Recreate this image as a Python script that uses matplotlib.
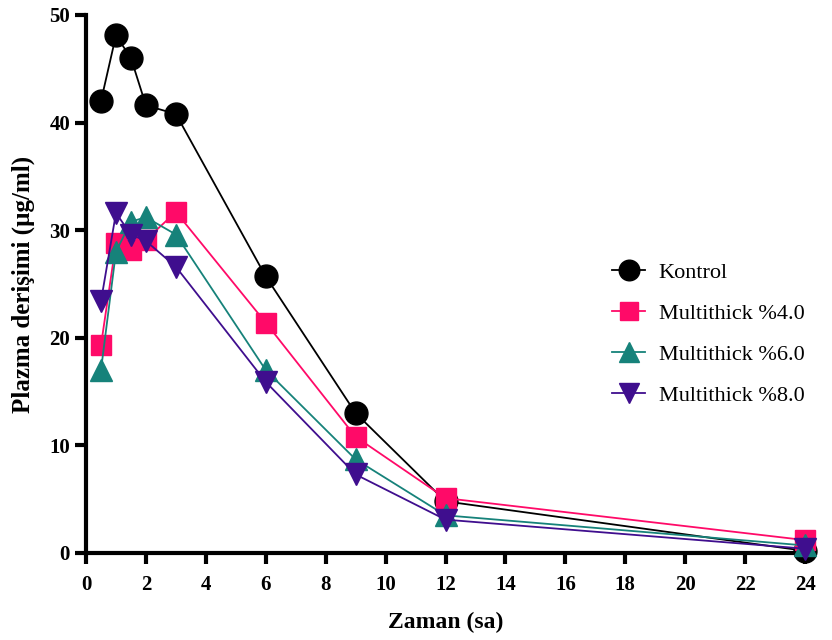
import matplotlib
matplotlib.use("Agg")
import matplotlib.pyplot as plt

time_h = [0.5, 1, 1.5, 2, 3, 6, 9, 12, 24]
kontrol = [42.0, 48.1, 46.0, 41.6, 40.8, 25.7, 13.0, 4.8, 0.2]
mt4 = [19.3, 28.8, 28.2, 29.1, 31.7, 21.4, 10.8, 5.1, 1.2]
mt6 = [17.0, 28.0, 30.8, 31.2, 29.6, 17.0, 8.7, 3.5, 0.7]
mt8 = [23.4, 31.6, 29.6, 29.0, 26.6, 15.9, 7.3, 3.1, 0.4]

series_labels = ["Kontrol", "Multithick %4.0", "Multithick %6.0", "Multithick %8.0"]
xticks = list(range(0, 25, 2))
yticks = [0, 10, 20, 30, 40, 50]

plt.rcParams['font.family'] = ['Liberation Serif', 'DejaVu Serif']

fig = plt.figure(figsize=(8.32, 6.4), dpi=100)
ax = fig.add_axes([86/832, 1-553/640, (805-86)/832, (553-15)/640])

styles = [
    dict(color='black', marker='o', ms=16.5),
    dict(color='#FF0A68', marker='s', ms=15),
    dict(color='#16827A', marker='^', ms=16),
    dict(color='#3F0E8E', marker='v', ms=16),
]
for data, lab, st in zip([kontrol, mt4, mt6, mt8], series_labels, styles):
    ax.plot(time_h, data, color=st['color'], marker=st['marker'], markersize=st['ms'],
            linewidth=1.3, label=lab, clip_on=False, zorder=3)

ax.set_xlim(0, 24)
ax.set_ylim(0, 50)
ax.set_xticks(xticks)
ax.set_yticks(yticks)
for s in ['top', 'right']:
    ax.spines[s].set_visible(False)
for s in ['left', 'bottom']:
    ax.spines[s].set_linewidth(3)
ax.tick_params(width=3, length=8, labelsize=15, direction='out')
ax.tick_params(axis='x', pad=8)
for lbl in ax.get_xticklabels() + ax.get_yticklabels():
    lbl.set_fontweight('bold')

ax.set_xlabel('Zaman (sa)', fontsize=17, fontweight='bold', labelpad=12)
ax.set_ylabel('Plazma derişimi (µg/ml)', fontsize=18, fontweight='bold', labelpad=10)

leg = ax.legend(loc='upper left', bbox_to_anchor=(592/832, 1-242/640),
                bbox_transform=fig.transFigure, frameon=False, fontsize=16,
                handlelength=1.5, handletextpad=0.6, labelspacing=0.93, markerscale=0.9)

fig.savefig('out.png', dpi=100)
